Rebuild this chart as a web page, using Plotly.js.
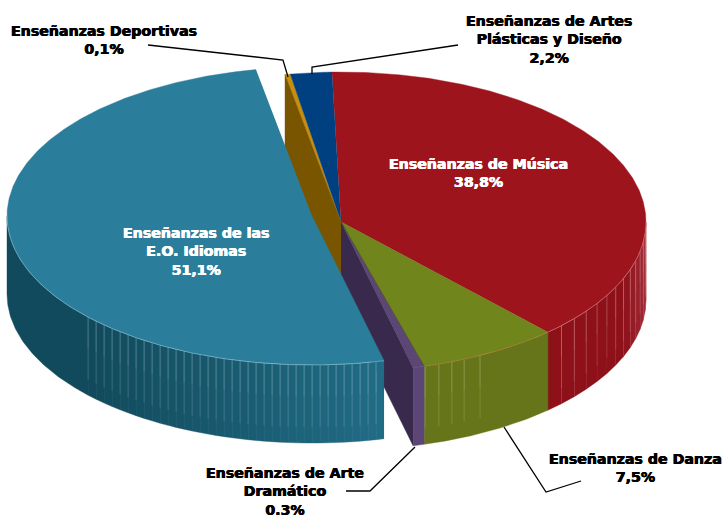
<!DOCTYPE html>
<html><head><meta charset="utf-8">
<script src="https://cdn.plot.ly/plotly-3.0.1.min.js"></script>
<style>html,body{margin:0;padding:0;background:#fff}#c{width:722px;height:517px}</style>
</head><body><div id="c"></div>
<script>
// Data
const categories = ["Enseñanzas de Música","Enseñanzas de Danza","Enseñanzas de Arte Dramático","Enseñanzas de las E.O. Idiomas","Enseñanzas Deportivas","Enseñanzas de Artes Plásticas y Diseño"];
const printedShares = ["38,8%","7,5%","0.3%","51,1%","0,1%","2,2%"];
// slice sizes as seen in the drawing (thin slices are drawn a little wider than their printed share)
const drawnShares = [38.8,7.5,0.6,51.1,0.28,2.2];
const topColors = ["#9E141C","#70851C","#5C4676","#2B7E9B","#C98E0A","#003F80"];

// geometry
const C={x:341,y:222,rx:305,ry:150}, B={x:312,y:216,rx:305,ry:149}, DEPTH=78, START=-1.7;
const total=drawnShares.reduce((a,b)=>a+b,0);
const edges=[START];
drawnShares.forEach(v=>edges.push(edges[edges.length-1]+v/total*360));
const rad=d=>d*Math.PI/180;
const pt=(c,t,dy=0)=>[c.x+c.rx*Math.sin(rad(t)), c.y-c.ry*Math.cos(rad(t))+dy];
function arc(c,a,b,dy=0){const n=Math.max(2,Math.ceil(Math.abs(b-a)/0.5));const o=[];for(let i=0;i<=n;i++)o.push(pt(c,a+(b-a)*i/n,dy));return o;}
const traces=[];
function poly(points,color){traces.push({type:'scatter',mode:'lines',x:points.map(p=>p[0]),y:points.map(p=>p[1]),fill:'toself',fillcolor:color,line:{color:color,width:0.4},hoverinfo:'skip',showlegend:false});}
function strokes(segs,color,w){const x=[],y=[];segs.forEach(s=>{s.forEach(p=>{x.push(p[0]);y.push(p[1]);});x.push(null);y.push(null);});traces.push({type:'scatter',mode:'lines',x,y,line:{color,width:w},hoverinfo:'skip',showlegend:false});}
const lerp=(c1,c2,f)=>'rgb('+c1.map((v,i)=>Math.round(v+(c2[i]-v)*Math.min(1,Math.max(0,f)))).join(',')+')';
function strip(c,a,b,color){poly(arc(c,a,b).concat(arc(c,b,a,DEPTH)),color);}
function seams(c,ts,rgb){ // thin pale seams that fade downwards
  const seg=(f1,f2)=>ts.map(t=>{const p=pt(c,t);return [[p[0],p[1]+DEPTH*f1],[p[0],p[1]+DEPTH*f2]];});
  strokes(seg(0,0.4),'rgba('+rgb+',0.42)',0.7);
  strokes(seg(0.4,0.8),'rgba('+rgb+',0.25)',0.7);
}

const [e0,e1,e2,e3,e4,e5,e6]=edges;

// red wall
const redT=[];for(let t=e1;t>90;t-=3.6)redT.push(t);
redT.concat([90]).reduce((a,b)=>{strip(C,a,b,lerp([142,17,26],[160,44,56],(pt(C,(a+b)/2)[0]-625)/22));return b;});
seams(C,redT.slice(1),'255,190,190');
// green wall
strip(C,e2,e1,'#66751A');
seams(C,[e2-0.2,e2-2.9,e2-5.5,e2-8,e2-11.3],'235,235,190');
strokes([[pt(C,e1),pt(C,e1,DEPTH)]],'rgba(90,90,20,0.8)',1);
// slice tops (all but the pulled-out one)
[0,1,2,4,5].forEach(i=>poly([[C.x,C.y]].concat(arc(C,edges[i],edges[i+1])),topColors[i]));
// rim highlight on red and green
strokes([arc(C,90,e1)],'rgba(255,205,205,0.5)',0.7);
strokes([arc(C,e1,e2)],'rgba(190,120,60,0.7)',0.8);
strokes([[[C.x,C.y],pt(C,e1)]],'rgba(120,70,20,0.35)',0.6);
strokes([[[C.x,C.y],pt(C,e2)]],'rgba(70,80,20,0.9)',0.8);
// cut faces seen in the gap
const face=(t,col)=>{const p=pt(C,t);poly([[C.x,C.y],p,[p[0],p[1]+DEPTH],[C.x,C.y+DEPTH]],col);};
face(e4,'#7A5500');
face(e3,'#392A4D');
// purple rim wall
strip(C,e3,e2,'#5C4676');
// pulled-out slice wall
const blueEnd=270, firstSeamX=86, seamStep=8;
const tAt=x=>180+Math.asin((B.x-x)/B.rx)*180/Math.PI;
const blueT=[];for(let x=pt(B,e3)[0]-seamStep;x>firstSeamX;x-=seamStep)blueT.push(tAt(x));
[e3].concat(blueT).concat([blueEnd]).reduce((a,b)=>{strip(B,a,b,lerp([17,74,92],[33,108,133],(pt(B,(a+b)/2)[0]-90)/290));return b;});
seams(B,blueT,'215,240,245');
// pulled-out slice top
poly([[B.x,B.y]].concat(arc(B,e3,e4)),topColors[3]);
strokes([arc(B,e3,blueEnd)],'rgba(210,235,240,0.5)',0.7);

// leader lines
const leaders=[
 [[148,45],[283,60],[288,77]],
 [[312,74],[312,67],[458,45]],
 [[504,427],[546,492],[581,481]],
 [[346,491],[370,491],[415,447]]
];
leaders.forEach(l=>strokes([l],'#000',1.3));

const f=(c)=>({family:'"DejaVu Sans",sans-serif',size:14.2,color:c,weight:700,shadow:'0.4px 0 0 '+c+', -0.4px 0 0 '+c});
const note=(txt,x,y,c)=>({text:'<b>'+txt+'</b>',x,y,xref:'x',yref:'y',showarrow:false,align:'center',xanchor:'center',yanchor:'middle',font:f(c)});
const annotations=[
 note('Enseñanzas Deportivas<br>'+printedShares[4],104,40,'#000'),
 note('Enseñanzas de Artes<br>Plásticas y Diseño<br>'+printedShares[5],549,39,'#000'),
 note('Enseñanzas de Música<br>'+printedShares[0],478,173,'#fff'),
 note('Enseñanzas de las<br>E.O. Idiomas<br>'+printedShares[3],196,251,'#fff'),
 note('Enseñanzas de Danza<br>'+printedShares[1],635,468,'#000'),
 note('Enseñanzas de Arte<br>Dramático<br>'+printedShares[2],285,491,'#000')
];
const hidden=r=>({range:r,visible:false,fixedrange:true});
Plotly.newPlot('c',traces,{width:722,height:517,margin:{l:0,r:0,t:0,b:0},paper_bgcolor:'#fff',plot_bgcolor:'#fff',showlegend:false,hovermode:false,xaxis:hidden([0,722]),yaxis:hidden([517,0]),annotations},{displayModeBar:false,staticPlot:true});
</script></body></html>
